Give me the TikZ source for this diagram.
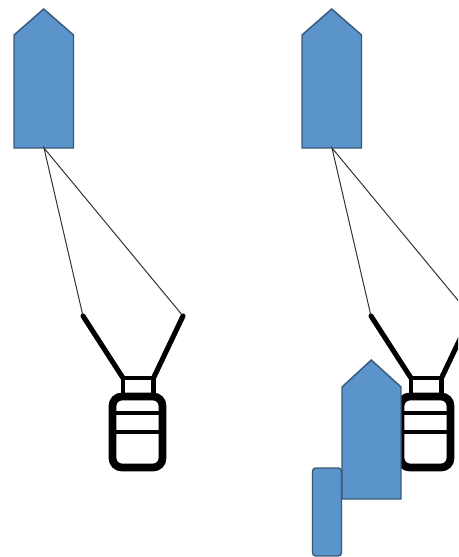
\documentclass[tikz,border=0pt]{standalone}
\definecolor{shipfill}{HTML}{5B93CB}
\definecolor{shipedge}{HTML}{3A5A7A}
\tikzset{
  x=0.75pt,y=-0.75pt,
  ship/.style={fill=shipfill,draw=shipedge,line width=1.1pt,line join=miter},
  tether/.style={draw=black!80,line width=0.75pt},
  arm/.style={draw=black,line width=3.8pt,line cap=round},
  neck/.style={draw=black,line width=3.2pt},
  bodyframe/.style={draw=black,line width=5.8pt,rounded corners=7pt},
  stripe/.style={draw=black,line width=3.2pt},
  tug/.style={fill=shipfill,draw=shipedge,line width=1.1pt,rounded corners=2.5pt}
}
\newcommand{\craft}[2]{%
  \begin{scope}[shift={(#1,0)}]
    \coordinate (#2apex) at (44,148);
    \coordinate (#2armL) at (83,316);
    \coordinate (#2armR) at (183,316);
    \coordinate (#2neckL) at (123,378);
    \coordinate (#2neckR) at (153.5,378);
    \coordinate (#2neckLb) at (123,396);
    \coordinate (#2neckRb) at (153.5,396);
    \draw[ship] (14,148) -- (14,35) -- (43.7,9) -- (73.5,35) -- (73.5,148) -- cycle;
    \draw[tether] (#2armL) -- (#2apex) -- (#2armR);
    \draw[arm] (#2armL) -- (#2neckL);
    \draw[arm] (#2armR) -- (#2neckR);
    \draw[neck] (#2neckLb) -- (#2neckL) -- (#2neckR) -- (#2neckRb);
    \draw[bodyframe] (112.5,396.5) rectangle (162.5,467.5);
    \draw[stripe] (112.5,413) -- (162.5,413);
    \draw[stripe] (112.5,432) -- (162.5,432);
  \end{scope}}
\begin{document}
\begin{tikzpicture}
\useasboundingbox (0,0) rectangle (458,557);
\clip (0,0) rectangle (458,557);
\craft{0}{a}
\craft{288}{b}
\draw[ship] (342,499) -- (342,387) -- (371.3,360) -- (401,387) -- (401,499) -- cycle;
\draw[tug] (312.5,468) rectangle (341.5,556);
\end{tikzpicture}
\end{document}
